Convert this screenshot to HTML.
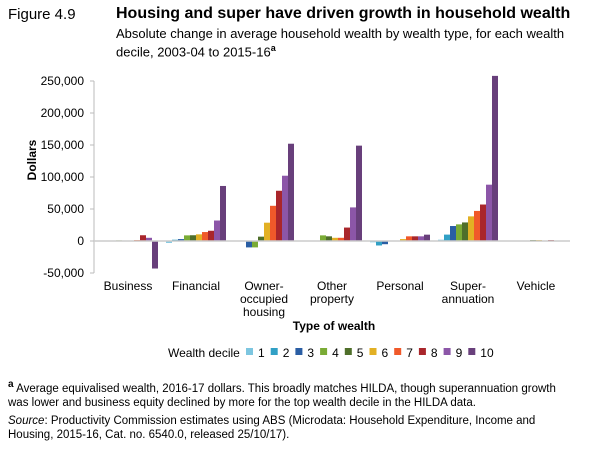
<!DOCTYPE html>
<html><head><meta charset="utf-8">
<style>
body{margin:0;width:613px;height:450px;background:#fff;font-family:"Liberation Sans",Arial,sans-serif;color:#000;position:relative;overflow:hidden}
.t{position:absolute;white-space:nowrap}
</style></head><body>
<div class="t" style="left:8px;top:6px;font-size:15px">Figure 4.9</div>
<div class="t" style="left:116px;top:5px;font-size:16px;font-weight:bold">Housing and super have driven growth in household wealth</div>
<div class="t" style="left:116px;top:27px;font-size:13px;line-height:14px">Absolute change in average household wealth by wealth type, for each wealth<br>decile, 2003-04 to 2015-16<sup style="font-size:9px;font-weight:bold">a</sup></div>
<svg id="c" width="613" height="450" style="position:absolute;left:0;top:0"></svg>
<div class="t" style="left:8px;top:378px;font-size:11.5px;line-height:14px"><b style="font-size:10px;vertical-align:super">a</b> Average equivalised wealth, 2016-17 dollars. This broadly matches HILDA, though superannuation growth<br>was lower and business equity declined by more for the top wealth decile in the HILDA data.</div>
<div class="t" style="left:8px;top:414px;font-size:11.5px;line-height:14px"><i>Source</i>: Productivity Commission estimates using ABS (Microdata: Household Expenditure, Income and<br>Housing, 2015-16, Cat. no. 6540.0, released 25/10/17).</div>
<script>
const categories=["Business","Financial","Owner-|occupied|housing","Other|property","Personal","Super-|annuation","Vehicle"];
const deciles=["1","2","3","4","5","6","7","8","9","10"];
const business=[0,0,0,1000,0,0,1500,9000,5000,-43000];
const financial=[-3000,2000,3000,8800,9000,10400,14000,16000,32000,86000];
const owner=[0,0,-10000,-10000,6800,28600,55000,78500,102000,152000];
const otherProp=[0,0,0,8800,7300,5000,5000,21000,52500,149000];
const personal=[-2000,-7000,-5000,0,0,3000,7300,7300,7300,9900];
const superann=[2000,10000,23400,26000,29000,38500,47000,57000,88000,258000];
const vehicle=[0,0,0,500,1500,1500,0,1500,0,0];
const series=[business,financial,owner,otherProp,personal,superann,vehicle];
const yTicks=[-50000,0,50000,100000,150000,200000,250000];
const colors=["#7dc6e0","#31a0c5","#2a5ea4","#7aab35","#4f6f2a","#e2b024","#f0592a","#a9262b","#8c56a8","#683f7b"];
const svg=document.getElementById('c');const NS="http://www.w3.org/2000/svg";
function mk(t,a){const e=document.createElementNS(NS,t);for(const k in a)e.setAttribute(k,a[k]);svg.appendChild(e);return e;}
const x0=94,x1=570,gw=(x1-x0)/categories.length,bw=6;
function y(v){return 241-v*32/50000;}
const ax=mk('line',{x1:x0,y1:y(-50000),x2:x0,y2:y(250000),stroke:'#bbb','stroke-width':1});

yTicks.forEach(v=>{
 const tk=mk('line',{x1:x0-4,x2:x0,y1:y(v),y2:y(v),stroke:'#bbb'});
 
 const t=mk('text',{x:x0-10,y:y(v)+4,'text-anchor':'end','font-size':12});
 t.textContent=(v<0?'-':'')+Math.abs(v).toLocaleString('en-US');
 
});
const yt=mk('text',{x:36,y:160,'text-anchor':'middle','font-size':12,'font-weight':'bold',transform:'rotate(-90 36 160)'});
yt.textContent='Dollars';
series.forEach((vals,g)=>{
 const cx=x0+gw*(g+0.5);
 vals.forEach((v,i)=>{
  if(v===0)return;
  const bx=cx-5*bw+i*bw;
  const r=mk('rect',{x:bx,y:Math.min(y(v),y(0)),width:bw,height:Math.abs(y(v)-y(0)),fill:colors[i]});
  
 });
 const lines=categories[g].split('|');
 lines.forEach((l,k)=>{
  const t=mk('text',{x:cx,y:290+k*13,'text-anchor':'middle','font-size':12});t.textContent=l;
  
 });
});
const zl=mk('line',{x1:x0,x2:x1,y1:y(0),y2:y(0),stroke:'#ccc','stroke-width':1.5});

const xt=mk('text',{x:334,y:330,'text-anchor':'middle','font-size':12,'font-weight':'bold'});
xt.textContent='Type of wealth';
const lt=mk('text',{x:168,y:357,'font-size':12});lt.textContent='Wealth decile';

deciles.forEach((d,i)=>{
 const lx=246+i*24.7;
 const s=mk('rect',{x:lx,y:348,width:7,height:7,fill:colors[i]});
 
 const t=mk('text',{x:lx+12,y:357,'font-size':12});t.textContent=d;
 
});
</script>
</body></html>
